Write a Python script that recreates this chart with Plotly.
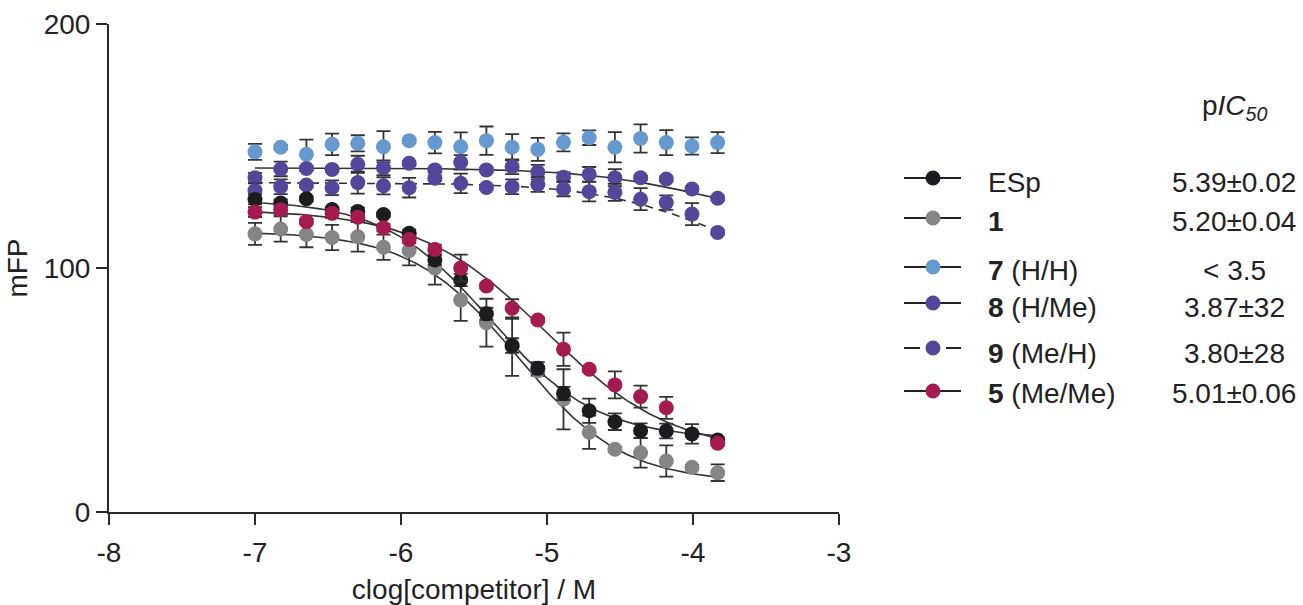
import numpy as np
import plotly.graph_objects as go

# ---------------- data ----------------
log_conc = [-7.000, -6.824, -6.648, -6.472, -6.296, -6.120, -5.944, -5.768, -5.591, -5.415,
            -5.239, -5.063, -4.887, -4.711, -4.535, -4.359, -4.183, -4.007, -3.831]

esp_mfp = [128.1, 126.6, 128.4, 124.0, 123.2, 121.9, 114.2, 103.3, 95.1, 81.2,
           68.2, 58.9, 48.6, 41.5, 37.0, 33.3, 33.2, 32.0, 29.5]
esp_err = [2.0, 1.5, 1.0, 1.0, 1.5, 1.0, 1.5, 2.0, 2.5, 2.5,
           3.0, 2.5, 2.7, 5.0, 3.4, 3.0, 3.0, 4.0, 1.0]

c1_mfp = [114.0, 116.0, 113.7, 112.5, 112.8, 108.5, 107.2, 100.0, 86.9, 77.6,
          67.5, 57.8, 46.2, 32.7, 25.7, 24.3, 20.9, 18.3, 16.1]
c1_err = [4.5, 5.2, 5.2, 5.2, 6.1, 5.2, 6.1, 6.8, 8.6, 9.8,
          11.7, 2.0, 12.3, 6.8, 1.0, 6.1, 6.4, 1.0, 3.4]

c7_mfp = [147.6, 149.5, 146.6, 150.7, 151.1, 149.7, 152.2, 151.4, 149.7, 152.2,
          149.5, 148.6, 151.5, 153.4, 149.5, 153.1, 151.4, 150.0, 151.4]
c7_err = [3.3, 1.0, 6.0, 4.4, 3.3, 6.4, 1.0, 4.4, 5.9, 5.8,
          5.4, 4.7, 3.7, 3.0, 6.2, 5.8, 5.1, 3.5, 4.3]

c8_mfp = [137.0, 140.6, 140.8, 140.4, 142.5, 141.1, 142.9, 140.2, 143.3, 140.2,
          141.5, 139.3, 137.2, 138.4, 137.0, 137.0, 136.5, 132.4, 128.6]
c8_err = [2.0, 3.0, 1.0, 1.0, 3.5, 3.0, 1.0, 1.0, 3.0, 1.0,
          3.0, 3.0, 2.0, 3.0, 3.5, 1.0, 1.0, 1.0, 1.0]

c9_mfp = [131.7, 133.3, 134.0, 132.9, 135.0, 133.7, 132.9, 136.8, 134.7, 133.0,
          133.3, 134.2, 132.4, 131.3, 131.0, 128.2, 126.8, 122.1, 114.6]
c9_err = [3.0, 3.0, 1.0, 3.0, 4.5, 3.5, 4.0, 1.0, 4.0, 1.0,
          3.0, 3.0, 3.0, 4.0, 3.5, 4.5, 3.0, 4.5, 1.0]

c5_mfp = [122.9, 123.9, 119.0, 122.4, 120.8, 116.5, 111.7, 107.6, 100.0, 92.6,
          83.5, 78.7, 66.7, 58.5, 52.1, 47.3, 42.7, None, 28.2]
c5_err = [2.0, 2.0, 1.0, 2.0, 2.0, 1.5, 1.5, 2.0, 5.5, 1.0,
          3.7, 1.0, 6.8, 1.0, 5.5, 4.5, 4.5, 0.0, 1.0]

# four-parameter logistic fits (top, bottom, logIC50, hill)
fit_names = ["ESp", "1", "8", "9", "5"]
fit_top = [128, 115, 141, 135, 124]
fit_bottom = [30, 12, 117, 94, 24]
fit_logic50 = [-5.39, -5.20, -3.87, -3.80, -5.01]
fit_hill = [1.2, 1.2, 1.0, 1.0, 1.0]
fit_dash = ["solid", "solid", "solid", "8px,6px", "solid"]

legend_labels = ["ESp", "<b>1</b>", "<b>7</b> (H/H)", "<b>8</b> (H/Me)",
                 "<b>9</b> (Me/H)", "<b>5</b> (Me/Me)"]
pic50_labels = ["5.39±0.02", "5.20±0.04", "< 3.5", "3.87±32", "3.80±28", "5.01±0.06"]

# ---------------- style ----------------
C_BLACK = "#1c1b20"
C_GRAY = "#858585"
C_BLUE = "#6699d0"
C_PURPLE = "#54479b"
C_RED = "#a51a50"
AX = "#2a2a2a"
TXT = "#222222"
FONT = "Liberation Sans, Arial, sans-serif"
FS = 28

fig = go.Figure()

# fitted curves
xf = np.linspace(min(log_conc), max(log_conc), 200)
for top, bot, lic, h, dash in zip(fit_top, fit_bottom, fit_logic50, fit_hill, fit_dash):
    yf = bot + (top - bot) / (1 + 10 ** ((xf - lic) * h))
    fig.add_trace(go.Scatter(x=xf, y=yf, mode="lines",
                             line=dict(color="#333333", width=1.6, dash=dash),
                             showlegend=False, hoverinfo="skip"))

series = [
    (c7_mfp, c7_err, C_BLUE),
    (c8_mfp, c8_err, C_PURPLE),
    (c9_mfp, c9_err, C_PURPLE),
    (c1_mfp, c1_err, C_GRAY),
    (esp_mfp, esp_err, C_BLACK),
    (c5_mfp, c5_err, C_RED),
]
for ys, es, col in series:
    fig.add_trace(go.Scatter(
        x=log_conc, y=ys, mode="markers",
        marker=dict(size=15, color=col, line=dict(width=0)),
        error_y=dict(type="data", array=es, visible=True, color="#333333",
                     thickness=1.8, width=7),
        showlegend=False))

# ---------------- custom legend ----------------
L_PX, R_PX, T_PX, B_PX = 109, 839, 24, 512
def px(xp):
    return (xp - L_PX) / (R_PX - L_PX)
def py(yp):
    return (B_PX - yp) / (B_PX - T_PX)

leg_colors = [C_BLACK, C_GRAY, C_BLUE, C_PURPLE, C_PURPLE, C_RED]
marker_rows = [178, 218, 267, 303, 348, 391]
text_rows = [183, 222, 270, 307, 353, 393]
shapes = []
annotations = []
for i, (lab, pv, col) in enumerate(zip(legend_labels, pic50_labels, leg_colors)):
    ym = py(marker_rows[i])
    if i == 4:
        segs = [(904, 920), (946, 961)]
    else:
        segs = [(904, 961)]
    for a, b in segs:
        shapes.append(dict(type="line", xref="paper", yref="paper",
                           x0=px(a), x1=px(b), y0=ym, y1=ym,
                           line=dict(color="#222222", width=2)))
    r = 7.5
    shapes.append(dict(type="circle", xref="paper", yref="paper",
                       x0=px(933 - r), x1=px(933 + r),
                       y0=py(marker_rows[i] + r), y1=py(marker_rows[i] - r),
                       fillcolor=col, line=dict(width=0)))
    annotations.append(dict(xref="paper", yref="paper", x=px(986), y=py(text_rows[i]),
                            text=lab, showarrow=False, xanchor="left", yanchor="middle",
                            font=dict(family=FONT, size=FS, color=TXT)))
    annotations.append(dict(xref="paper", yref="paper", x=px(1234), y=py(text_rows[i]),
                            text=pv, showarrow=False, xanchor="center", yanchor="middle",
                            font=dict(family=FONT, size=FS, color=TXT)))

annotations.append(dict(xref="paper", yref="paper", x=px(1234), y=py(108),
                        text="p<i>IC</i><sub><i>50</i></sub>", showarrow=False,
                        xanchor="center", yanchor="middle",
                        font=dict(family=FONT, size=FS, color=TXT)))

fig.update_layout(
    width=1303, height=605,
    margin=dict(l=L_PX, r=1303 - R_PX, t=T_PX, b=605 - B_PX),
    paper_bgcolor="white", plot_bgcolor="white",
    font=dict(family=FONT, size=FS, color=TXT),
    shapes=shapes, annotations=annotations,
    showlegend=False,
)
fig.update_xaxes(range=[-8, -3], tickvals=[-8, -7, -6, -5, -4, -3],
                 ticktext=["-8", "-7", "-6", "-5", "-4", "-3"],
                 automargin=False,
                 showgrid=False, zeroline=False, showline=True, linecolor=AX, linewidth=2,
                 ticks="outside", ticklen=11, tickwidth=2, tickcolor=AX,
                 ticklabelstandoff=3,
                 tickfont=dict(family=FONT, size=FS, color=TXT),
                 title=dict(text="clog[competitor] / M", standoff=16,
                            font=dict(family=FONT, size=FS, color=TXT)))
fig.update_yaxes(range=[0, 200], tickvals=[0, 100, 200],
                 automargin=False,
                 showgrid=False, zeroline=False, showline=True, linecolor=AX, linewidth=2,
                 ticks="outside", ticklen=11, tickwidth=2, tickcolor=AX,
                 tickfont=dict(family=FONT, size=FS, color=TXT),
                 title=dict(text="mFP", standoff=8,
                            font=dict(family=FONT, size=FS, color=TXT)))

fig.write_html("out.html")
